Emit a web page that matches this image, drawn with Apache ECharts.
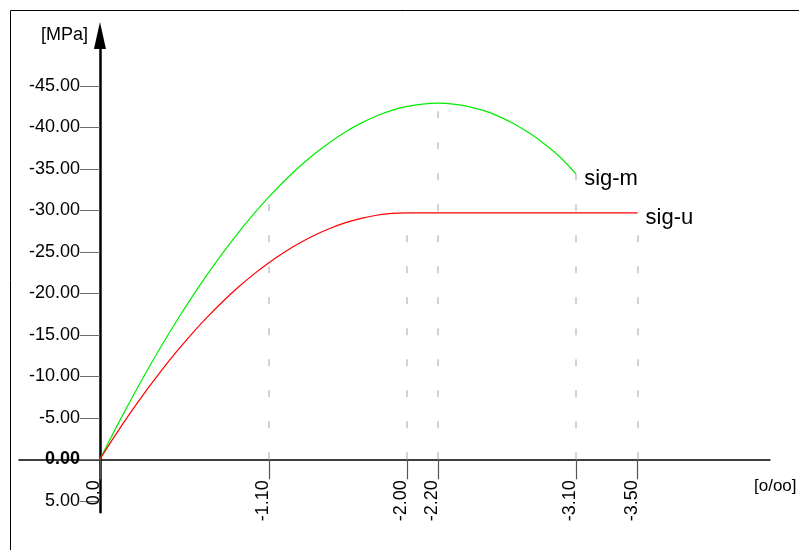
<!DOCTYPE html>
<html>
<head>
<meta charset="utf-8">
<script src="https://cdn.jsdelivr.net/npm/echarts/dist/echarts.min.js"></script>
<style>
html,body{margin:0;padding:0;background:#fff;}
#chart{width:799px;height:550px;}
</style>
</head>
<body>
<div id="chart"></div>
<script>
// sig-m (green) curve: strain [o/oo] and stress [MPa]
const sigMStrain = [0,-0.1,-0.2,-0.3,-0.4,-0.5,-0.6,-0.7,-0.8,-0.9,-1.0,-1.1,-1.2,-1.3,-1.4,-1.5,-1.6,-1.7,-1.8,-1.9,-2.0,-2.1,-2.2,-2.3,-2.4,-2.5,-2.6,-2.7,-2.8,-2.9,-3.0,-3.1];
const sigMStress = [0,-3.63,-7.12,-10.46,-13.65,-16.69,-19.57,-22.30,-24.87,-27.28,-29.53,-31.61,-33.53,-35.27,-36.84,-38.24,-39.46,-40.50,-41.36,-42.03,-42.51,-42.80,-42.90,-42.80,-42.50,-42.00,-41.29,-40.37,-39.24,-37.90,-36.33,-34.35];
// sig-u (red) curve
const sigUStrain = [0,-0.1,-0.2,-0.3,-0.4,-0.5,-0.6,-0.7,-0.8,-0.9,-1.0,-1.1,-1.2,-1.3,-1.4,-1.5,-1.6,-1.7,-1.8,-1.9,-2.0,-3.5];
const sigUStress = [0,-2.90,-5.64,-8.24,-10.69,-12.99,-15.15,-17.15,-19.01,-20.72,-22.28,-23.69,-24.95,-26.06,-27.03,-27.84,-28.51,-29.03,-29.40,-29.63,-29.70,-29.70];
// tick values
const yTicks = [-45,-40,-35,-30,-25,-20,-15,-10,-5,0,5];
const xTicks = [0,-1.1,-2.0,-2.2,-3.1,-3.5];
// dashed guide lines (strain positions) for each curve
const guideM = [-1.1,-2.2,-3.1];
const guideU = [-2.0,-3.5];
const seriesNames = ['sig-m','sig-u'];
const axisNames = ['[MPa]','[o/oo]'];

function pairs(xs, ys){ return xs.map((x,i)=>[x, ys[i]]); }
function guides(list, xs, ys){
  return list.map(g=>{
    const i = xs.findIndex(v=>Math.abs(v-g)<1e-9);
    return [{coord:[g,0]},{coord:[g,ys[i]]}];
  });
}
const FONT = 'Liberation Sans, Arial, sans-serif';
const guideStyle = {color:'#c4c4c4', width:1.5, type:[7,24]};

function endPoint(name, xs, ys){
  const n = xs.length-1;
  return {
    symbol:'circle', symbolSize:0,
    itemStyle:{color:'rgba(0,0,0,0)'},
    label:{show:true, position:'right', distance:8, offset:[0,5], formatter:name, fontSize:22, color:'#000', fontFamily:FONT},
    data:[{coord:[xs[n], ys[n]]}]
  };
}

const GRID = {left:19, right:29, top:35.5, bottom:37.7};
const chart = echarts.init(document.getElementById('chart'), null, {renderer:'canvas'});
chart.setOption({
  animation:false,
  backgroundColor:'#fff',
  grid:{left:GRID.left, right:GRID.right, top:GRID.top, bottom:GRID.bottom, containLabel:false, outerBoundsMode:'none'},
  xAxis:{
    type:'value', inverse:true, min:-4.362, max:0.527,
    axisLine:{onZero:true, lineStyle:{color:'#000', width:1.5}},
    axisTick:{show:true, customValues:xTicks, length:20, lineStyle:{color:'#555', width:1.2}},
    axisLabel:{customValues:xTicks, rotate:90, margin:-32, verticalAlign:'bottom', lineHeight:12, fontSize:18, color:'#000', fontFamily:FONT,
      formatter:v=> v===0 ? '0.0' : v.toFixed(2)},
    splitLine:{show:false}
  },
  yAxis:{
    type:'value', inverse:true, min:-51.06, max:6.39,
    axisLine:{onZero:true, lineStyle:{color:'#000', width:2.5}, symbol:['none','triangle'], symbolSize:[12,27]},
    axisTick:{show:true, customValues:yTicks, length:20, lineStyle:{color:'#707070', width:1}},
    axisLabel:{customValues:yTicks, margin:-61, fontSize:18, color:'#000', fontFamily:FONT,
      formatter:v=> v===0 ? '{b|0.00}' : v.toFixed(2),
      rich:{b:{fontSize:18, fontWeight:'bold', fontFamily:FONT, color:'#000'}}},
    splitLine:{show:false}
  },
  graphic:[
    {type:'rect', shape:{x:10.5, y:10.5, width:1000, height:1000}, style:{fill:'none', stroke:'#000', lineWidth:1}, z:-1},
    {type:'text', x:88, y:35, style:{text:axisNames[0], align:'right', verticalAlign:'middle', fontSize:18, fill:'#000', fontFamily:FONT}},
    {type:'text', x:754, y:486, style:{text:axisNames[1], align:'left', verticalAlign:'middle', fontSize:17, fill:'#000', fontFamily:FONT}}
  ],
  series:[
    {
      name:seriesNames[0], type:'line', data:pairs(sigMStrain, sigMStress), showSymbol:false, smooth:0.3,
      lineStyle:{color:'#00ee00', width:1.2}, z:3,
      markLine:{silent:true, symbol:'none', label:{show:false}, lineStyle:guideStyle, data:guides(guideM, sigMStrain, sigMStress)},
      markPoint:endPoint(seriesNames[0], sigMStrain, sigMStress)
    },
    {
      name:seriesNames[1], type:'line', data:pairs(sigUStrain, sigUStress), showSymbol:false, smooth:0.3,
      lineStyle:{color:'#ff0000', width:1.2}, z:3,
      markLine:{silent:true, symbol:'none', label:{show:false}, lineStyle:guideStyle, data:guides(guideU, sigUStrain, sigUStress)},
      markPoint:endPoint(seriesNames[1], sigUStrain, sigUStress)
    }
  ]
});
</script>
</body>
</html>
